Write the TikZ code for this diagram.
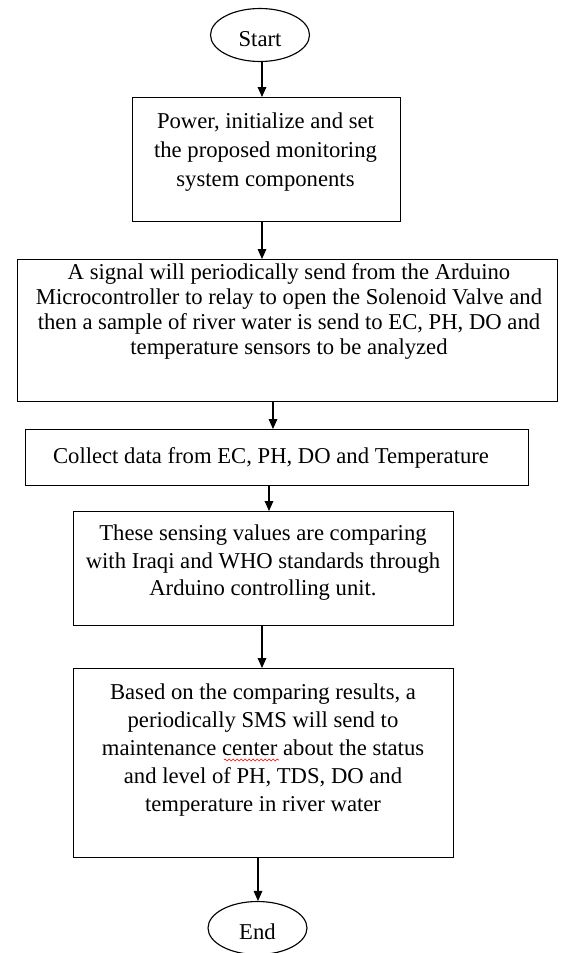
\documentclass[tikz,border=0pt]{standalone}
\usepackage{fontspec}
\setmainfont{Liberation Serif}
\usetikzlibrary{shapes.geometric,arrows.meta,decorations.pathmorphing}
\begin{document}
\begin{tikzpicture}[x=0.75pt,y=-0.75pt,
  box/.style={draw, line width=0.85pt, inner sep=0pt, anchor=north west},
  term/.style={draw, ellipse, line width=0.85pt, inner sep=0pt,
    minimum width=99*0.75pt, minimum height=53*0.75pt, text height=17pt, text depth=0pt,
    font=\fontsize{17}{20}\selectfont},
  txt/.style={inner sep=0pt, align=center, anchor=north},
  arr/.style={line width=0.8pt, -{Triangle[length=7.5pt,width=6.5pt]}},
  wave/.style={red, line width=0.45pt, decorate, decoration={snake, amplitude=0.7pt, segment length=3pt}}]
\useasboundingbox (0,0) rectangle (562,953);
% terminals
\node[term] (start) at (260,35) {Start};
\node[term] (end) at (257.5,928) {End};
% boxes
\node[box, minimum width=268*0.75pt, minimum height=124*0.75pt] (b1) at (132,97) {};
\node[box, minimum width=540*0.75pt, minimum height=142*0.75pt] (b2) at (17,259) {};
\node[box, minimum width=503*0.75pt, minimum height=56*0.75pt] (b3) at (25,429) {};
\node[box, minimum width=380*0.75pt, minimum height=114*0.75pt] (b4) at (73,511) {};
\node[box, minimum width=380*0.75pt, minimum height=189*0.75pt] (b5) at (73,668) {};
% texts
\node[txt, font=\fontsize{17}{21.75}\selectfont] (t1) at (265.5,112.6)
  {Power, initialize and set\\the proposed monitoring\\system components};
\node[txt, font=\fontsize{17}{18.75}\selectfont] (t2) at (289,263.6)
  {A signal will periodically send from the Arduino\\Microcontroller to relay to open the Solenoid Valve and\\then a sample of river water is send to EC, PH, DO and\\temperature sensors to be analyzed};
\node[inner sep=0pt, anchor=base, font=\fontsize{17}{20}\selectfont] (t3) at (271,463)
  {Collect data from EC, PH, DO and Temperature};
\node[txt, font=\fontsize{17}{20.6}\selectfont] (t4) at (263,524.8)
  {These sensing values are comparing\\with Iraqi and WHO standards through\\Arduino controlling unit.};
\node[txt, font=\fontsize{17}{21}\selectfont] (t5) at (263,683.6)
  {Based on the comparing results, a\\periodically SMS will send to\\maintenance center about the status\\and level of PH, TDS, DO and\\temperature in river water};
% spell-check squiggle under "center"
\coordinate (w1) at (224,760);
\coordinate (w2) at (279,760);
\draw[wave] (w1) -- (w2);
% arrow columns
\coordinate (xa) at (262,0);
\coordinate (xb) at (262,0);
\coordinate (xc) at (273,0);
\coordinate (xd) at (269,0);
\coordinate (xe) at (262,0);
\coordinate (xf) at (258,0);
\draw[arr] (start.south -| xa) -- (b1.north -| xa);
\draw[arr] (b1.south -| xb) -- (b2.north -| xb);
\draw[arr] (b2.south -| xc) -- (b3.north -| xc);
\draw[arr] (b3.south -| xd) -- (b4.north -| xd);
\draw[arr] (b4.south -| xe) -- (b5.north -| xe);
\draw[arr] (b5.south -| xf) -- (end.north -| xf);
\end{tikzpicture}
\end{document}
